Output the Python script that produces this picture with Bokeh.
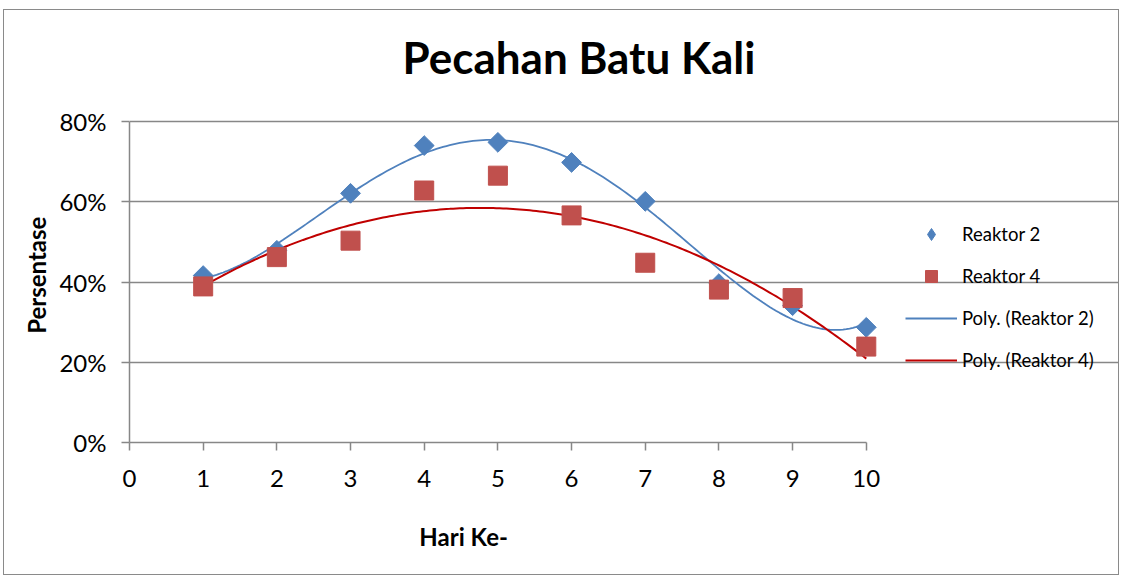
import numpy as np
from bokeh.plotting import figure
from bokeh.models import (ColumnDataSource, Legend, LegendItem, Title,
                          NumeralTickFormatter, FixedTicker, LinearAxis,
                          CustomJSTickFormatter)
from bokeh.embed import file_html
from bokeh.resources import INLINE

# ---- data ----
hari = [1, 2, 3, 4, 5, 6, 7, 8, 9, 10]
reaktor2 = [0.416, 0.479, 0.621, 0.740, 0.748, 0.698, 0.601, 0.396, 0.341, 0.287]
reaktor4 = [0.389, 0.462, 0.503, 0.628, 0.665, 0.566, 0.448, 0.381, 0.360, 0.239]
x_ticks = [0, 1, 2, 3, 4, 5, 6, 7, 8, 9, 10]
y_ticks = [0.0, 0.2, 0.4, 0.6, 0.8]
title_text = "Pecahan Batu Kali"
x_label = "Hari Ke-"
y_label = "Persentase"
names = ["Reaktor 2", "Reaktor 4", "Poly. (Reaktor 2)", "Poly. (Reaktor 4)"]

FONT = "Lato"
BLUE = "#4F81BD"
RED = "#C0504D"
DARKRED = "#C00000"
GRID = "#878787"

# polynomial trend lines (Excel-style least squares fits)
xs = np.linspace(1, 10, 200)
c2 = np.polyfit(hari, reaktor2, 4)
c4 = np.polyfit(hari, reaktor4, 2)
trend2 = np.polyval(c2, xs)
trend4 = np.polyval(c4, xs)

# frame is wider/taller than the axes so that the legend is not clipped
p = figure(width=1116, height=566, output_backend="svg", toolbar_location=None,
           x_range=(0, 13.4232), y_range=(0, 0.87726),
           min_border_left=118, min_border_right=2,
           min_border_top=80, min_border_bottom=134)
p.styles = {"border": "1px solid #8a8a8a", "margin": "9px 0 0 3px"}
p.outline_line_color = None
p.background_fill_color = "white"
p.border_fill_color = "white"

# grid
p.xgrid.grid_line_color = None
p.ygrid.grid_line_color = GRID
p.ygrid.grid_line_width = 1.5
p.ygrid.ticker = FixedTicker(ticks=y_ticks)
p.ygrid.bounds = (0, 10)

# axes
p.xaxis.ticker = FixedTicker(ticks=x_ticks)
p.yaxis.ticker = FixedTicker(ticks=y_ticks)
p.yaxis.formatter = NumeralTickFormatter(format="0%")
p.xaxis.bounds = (0, 10)
p.yaxis.bounds = (0, 0.8)
for ax in (p.xaxis[0], p.yaxis[0]):
    ax.axis_line_color = GRID
    ax.axis_line_width = 1.5
    ax.major_tick_line_color = GRID
    ax.major_tick_line_width = 1.5
    ax.major_tick_in = 0
    ax.major_tick_out = 8
    ax.minor_tick_line_color = None
    ax.major_label_text_font = FONT
    ax.major_label_text_font_size = "24px"
    ax.major_label_text_color = "black"
p.xaxis.major_label_standoff = 19
p.yaxis.major_label_standoff = 15


def title_axis(label, pos, standoff, orientation):
    """A bare axis whose single tick label carries an axis title."""
    return LinearAxis(ticker=FixedTicker(ticks=[pos]),
                      formatter=CustomJSTickFormatter(args=dict(lbl=label),
                                                      code="return lbl"),
                      axis_line_color=None, major_tick_line_color=None,
                      minor_tick_line_color=None, major_tick_out=0,
                      major_tick_in=0, major_label_standoff=standoff,
                      major_label_orientation=orientation,
                      major_label_text_font=FONT,
                      major_label_text_font_style="bold",
                      major_label_text_font_size="24px",
                      major_label_text_color="black")


p.add_layout(title_axis(x_label, 4.535, 32, "horizontal"), "below")
p.add_layout(title_axis(y_label, 0.563, 20, np.pi / 2), "left")

# glyphs
lr2 = p.line(xs, trend2, line_color=BLUE, line_width=1.8)
lr4 = p.line(xs, trend4, line_color=DARKRED, line_width=2)
src = ColumnDataSource(dict(x=hari, r2=reaktor2, r4=reaktor4))
s2 = p.scatter("x", "r2", source=src, marker="square", angle=np.pi / 4,
               size=14, fill_color=BLUE, line_color=BLUE)
s4 = p.scatter("x", "r4", source=src, marker="square", size=19,
               fill_color=RED, line_color=RED)
# legend-only proxy so the key shows a diamond
s2_key = p.scatter([np.nan], [np.nan], marker="diamond", size=14,
                   fill_color=BLUE, line_color=BLUE)

legend = Legend(items=[LegendItem(label=names[0], renderers=[s2_key]),
                       LegendItem(label=names[1], renderers=[s4]),
                       LegendItem(label=names[2], renderers=[lr2]),
                       LegendItem(label=names[3], renderers=[lr4])],
                location=(776, 67), border_line_color=None,
                background_fill_alpha=0, padding=0, margin=0,
                glyph_width=52, glyph_height=30, label_height=30,
                spacing=12, label_standoff=5,
                label_text_font=FONT, label_text_font_size="18.5px",
                label_text_color="black")
p.add_layout(legend, "center")

# chart title
p.add_layout(Title(text=title_text, align="left", offset=273, standoff=15,
                   text_font=FONT, text_font_style="bold",
                   text_font_size="44px", text_color="black"), "above")

open("out.html", "w").write(file_html(p, INLINE))
